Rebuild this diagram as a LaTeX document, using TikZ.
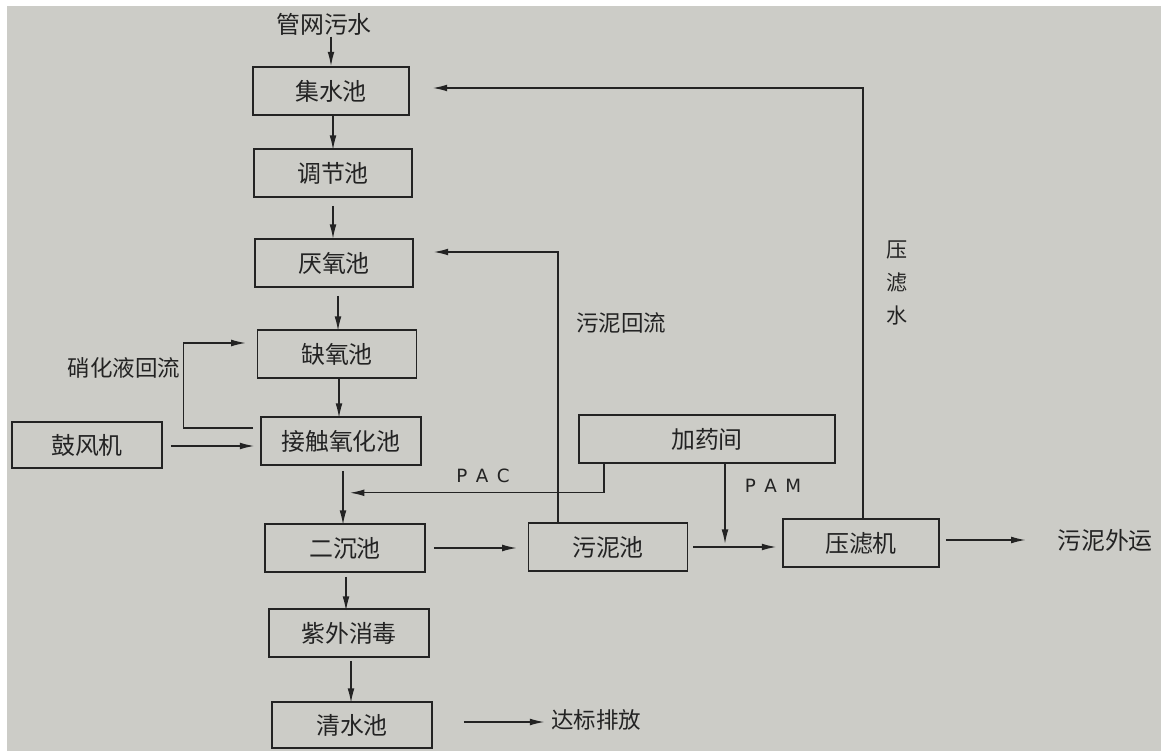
\documentclass[tikz,border=0pt]{standalone}
\usepackage{fontspec}
\usepackage{xcolor}
\usepackage{tikz}
\usetikzlibrary{arrows.meta,calc}

\newfontfamily\cjk{Noto Sans CJK SC}
\newfontfamily\latinfont{DejaVu Sans}
\definecolor{paper}{RGB}{204,204,199}
\definecolor{ink}{RGB}{35,35,35}

\tikzset{
	tank/.style={draw=ink, line width=1.1pt, minimum height=1.2cm, inner sep=0pt,
		font=\cjk\fontsize{17}{20}\selectfont, text=ink},
	note/.style={font=\cjk\fontsize{16}{19}\selectfont, text=ink, inner sep=1pt},
	dose/.style={font=\latinfont\fontsize{13}{15}\selectfont, text=ink},
	flow/.style={draw=ink, line width=0.9pt, -{Latex[length=3.6mm,width=1.7mm]}},
}

\begin{document}
\begin{tikzpicture}[x=0.025cm,y=-0.025cm]
	\fill[white] (0,0) rectangle (1161,753);
	\fill[paper] (7,6) rectangle (1161,751);
	\useasboundingbox (0,0) rectangle (1161,753);

	\node[tank, minimum width=3.9cm] (jishui) at (331,91) {集水池};
	\node[tank, minimum width=3.95cm] (tiaojie) at (333,173) {调节池};
	\node[tank, minimum width=3.95cm] (yanyang) at (334,263) {厌氧池};
	\node[tank, minimum width=3.98cm] (queyang) at (337,354) {缺氧池};
	\node[tank, minimum width=4cm] (jiechu) at (341,441) {接触氧化池};
	\node[tank, minimum width=3.75cm, minimum height=1.15cm] (gufeng) at (87,445) {鼓风机};
	\node[tank, minimum width=4cm] (erchen) at (345,548) {二沉池};
	\node[tank, minimum width=4cm] (ziwai) at (349,633) {紫外消毒};
	\node[tank, minimum width=4cm, minimum height=1.15cm] (qingshui) at (352,725) {清水池};
	\node[tank, minimum width=6.4cm] (jiayao) at (707,439) {加药间};
	\node[tank, minimum width=3.98cm] (wuni) at (608,547) {污泥池};
	\node[tank, minimum width=3.9cm] (yalv) at (861,543) {压滤机};

	\node[note, font=\cjk\fontsize{17}{20}\selectfont] (inflow) at (324,24) {管网污水};
	\node[note] (nitro) at (124,368) {硝化液回流};
	\node[note] (sludgeback) at (621,323) {污泥回流};
	\node[note, align=center, font=\cjk\fontsize{15}{23.5}\selectfont] (filtrate) at (897,283) {压\\滤\\水};
	\node[note, font=\cjk\fontsize{17}{20}\selectfont] (outsludge) at (1105,540) {污泥外运};
	\node[note] (discharge) at (596,720) {达标排放};
	\node[dose] (pac) at (483,476) {P\kern6pt A\kern6pt C};
	\node[dose] (pam) at (773,486) {P\kern6pt A\kern6pt M};

	\draw[flow] (inflow.south -| jishui.north) -- (jishui.north);
	\draw[flow] ($(jishui.south)+(2,0)$) -- ++(0,34);
	\draw[flow] ($(tiaojie.south)+(0,8)$) -- ++(0,33);
	\draw[flow] ($(yanyang.south)+(4,8)$) -- ++(0,35);
	\draw[flow] ($(queyang.south)+(2,0)$) -- ++(0,39);
	\draw[flow] ($(jiechu.south)+(2,5)$) -- ++(0,54);
	\draw[flow] ($(erchen.south)+(1,4)$) -- ++(0,34);
	\draw[flow] ($(ziwai.south)+(2,3)$) -- ++(0,42);

	\draw[flow] ($(jiechu.west)+(-7,-13)$) -| ($(queyang.west)+(-73,-11)$) -- ($(queyang.west)+(-11,-11)$);
	\draw[flow] ($(gufeng.east)+(8,1)$) -- ($(jiechu.west)+(-6,5)$);

	\draw[flow] ($(erchen.east)+(8,0)$) -- ($(wuni.west)+(-11,1)$);
	\draw[flow] ($(wuni.east)+(5,0)$) -- ($(yalv.west)+(-6,4)$);
	\draw[flow] ($(yalv.east)+(6,-3)$) -- ($(outsludge.west)+(-30,0)$);
	\draw[flow] ($(qingshui.east)+(31,-3)$) -- ($(discharge.west)+(-5,2)$);

	\draw[flow] ($(wuni.north)+(-50,0)$) |- ($(yanyang.east)+(20,-11)$);
	\draw[flow] ($(yalv.north)+(2,0)$) |- ($(jishui.east)+(23,-3)$);
	\draw[flow] ($(jiayao.south)+(-103,0)$) |- ($(jiechu.south)+(9,27)$);
	\draw[flow] ($(jiayao.south)+(18,0)$) -- ++(0,80);
\end{tikzpicture}
\end{document}
